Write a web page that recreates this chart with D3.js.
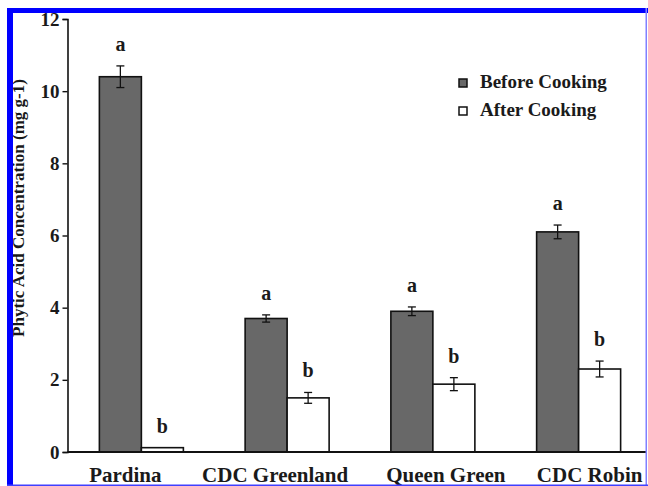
<!DOCTYPE html>
<html>
<head>
<meta charset="utf-8">
<script src="https://cdn.jsdelivr.net/npm/d3@7"></script>
<style>
  body { margin: 0; background: #fff; }
  svg text { font-family: "Liberation Serif", "Times New Roman", serif; font-weight: bold; fill: #1a1a1a; }
</style>
</head>
<body>
<div id="chart"></div>
<script>
// Chart data
const cultivars = ['Pardina', 'CDC Greenland', 'Queen Green', 'CDC Robin'];
const seriesNames = ['Before Cooking', 'After Cooking'];
const beforeValues = [10.4, 3.7, 3.9, 6.1];
const beforeErrors = [0.3, 0.1, 0.12, 0.19];
const afterValues = [0.12, 1.5, 1.88, 2.3];
const afterErrors = [0.0, 0.15, 0.18, 0.22];
const beforeLetters = ['a', 'a', 'a', 'a'];
const afterLetters = ['b', 'b', 'b', 'b'];
const yTicks = [0, 2, 4, 6, 8, 10, 12];

const width = 648;
const height = 486;

// the category labels in the original sit a bit off-centre
const labelNudge = [-16, -12, 13, 11];

const svg = d3.select('#chart')
    .append('svg')
    .attr('width', width)
    .attr('height', height);

// Scales
const y = d3.scaleLinear()
    .domain([0, 12])
    .range([452, 19]);

const x0 = d3.scaleBand()
    .domain(cultivars)
    .range([68.5, 651.5]);

const x1 = d3.scaleBand()
    .domain(seriesNames)
    .range([0, 84]);

const fills = { 'Before Cooking': '#686868', 'After Cooking': '#ffffff' };

// Flatten into one row per bar
const rows = [];
cultivars.forEach(function(c, i) {
    rows.push({ cultivar: c, series: seriesNames[0], value: beforeValues[i], err: beforeErrors[i], letter: beforeLetters[i] });
    rows.push({ cultivar: c, series: seriesNames[1], value: afterValues[i], err: afterErrors[i], letter: afterLetters[i] });
});

function barX(d) {
    return x0(d.cultivar) + x0.bandwidth() / 2 - 42 + x1(d.series);
}

// Bars
svg.selectAll('rect.bar')
    .data(rows)
    .enter()
    .append('rect')
    .attr('class', 'bar')
    .attr('x', barX)
    .attr('y', d => y(d.value))
    .attr('width', x1.bandwidth())
    .attr('height', d => y(0) - y(d.value))
    .style('fill', d => fills[d.series])
    .style('stroke', '#111')
    .style('stroke-width', 1.6);

// Error bars
const eb = svg.selectAll('g.err')
    .data(rows.filter(d => d.err > 0))
    .enter()
    .append('g')
    .attr('class', 'err')
    .style('stroke', '#111')
    .style('stroke-width', 1.3);

eb.append('line')
    .attr('x1', d => barX(d) + x1.bandwidth() / 2)
    .attr('x2', d => barX(d) + x1.bandwidth() / 2)
    .attr('y1', d => y(d.value + d.err))
    .attr('y2', d => y(d.value - d.err));

[1, -1].forEach(function(sign) {
    eb.append('line')
        .attr('x1', d => barX(d) + x1.bandwidth() / 2 - 4)
        .attr('x2', d => barX(d) + x1.bandwidth() / 2 + 4)
        .attr('y1', d => y(d.value + sign * d.err))
        .attr('y2', d => y(d.value + sign * d.err));
});

// Significance letters
svg.selectAll('text.letter')
    .data(rows)
    .enter()
    .append('text')
    .attr('class', 'letter')
    .attr('x', d => barX(d) + x1.bandwidth() / 2)
    .attr('y', d => y(d.value + d.err) - 15)
    .attr('text-anchor', 'middle')
    .style('font-size', '20px')
    .text(d => d.letter);

// Y axis
const yAxis = svg.append('g')
    .attr('transform', 'translate(67.5,0)')
    .call(d3.axisLeft(y).tickValues(yTicks).tickSize(5).tickPadding(3).tickFormat(d3.format('d')));
yAxis.select('.domain').attr('stroke', '#111').attr('stroke-width', 1.6);
yAxis.selectAll('.tick line').attr('stroke', '#111').attr('stroke-width', 1.4);
yAxis.selectAll('.tick text')
    .style('font-size', '19px')
    .style('font-family', '"Liberation Serif", serif')
    .style('font-weight', 'bold')
    .attr('fill', '#1a1a1a');

// X axis
const xAxis = svg.append('g')
    .attr('transform', 'translate(0,' + y(0) + ')')
    .call(d3.axisBottom(x0).tickSize(0).tickPadding(15));
xAxis.select('.domain').remove();
xAxis.selectAll('.tick text')
    .attr('dx', (d, i) => labelNudge[i])
    .style('font-size', '21px')
    .style('font-family', '"Liberation Serif", serif')
    .style('font-weight', 'bold')
    .attr('fill', '#1a1a1a');
svg.append('line')
    .attr('x1', 67.5)
    .attr('x2', 646)
    .attr('y1', y(0))
    .attr('y2', y(0))
    .style('stroke', '#111')
    .style('stroke-width', 1.8);

// Y axis title
svg.append('text')
    .attr('transform', 'translate(24,208) rotate(-90)')
    .attr('text-anchor', 'middle')
    .style('font-size', '17px')
    .text('Phytic Acid Concentration (mg g-1)');

// Legend
const legend = svg.selectAll('g.legend')
    .data(seriesNames)
    .enter()
    .append('g')
    .attr('class', 'legend')
    .attr('transform', (d, i) => 'translate(459,' + (79 + i * 28) + ')');

legend.append('rect')
    .attr('width', 8)
    .attr('height', 8)
    .style('fill', d => fills[d])
    .style('stroke', '#111')
    .style('stroke-width', 1.5);

legend.append('text')
    .attr('x', 21)
    .attr('y', 9)
    .style('font-size', '19px')
    .text(d => d);

// Blue frame around the figure
svg.append('rect').attr('x', 7).attr('y', 8).attr('width', 641).attr('height', 5).style('fill', '#0000ff');
svg.append('rect').attr('x', 7).attr('y', 8).attr('width', 6).attr('height', 478).style('fill', '#0000ff');
svg.append('rect').attr('x', 645.5).attr('y', 8).attr('width', 1.5).attr('height', 478).style('fill', '#8080ff');
svg.append('rect').attr('x', 7).attr('y', 484.5).attr('width', 641).attr('height', 1.5).style('fill', '#4040ff');
</script>
</body>
</html>
